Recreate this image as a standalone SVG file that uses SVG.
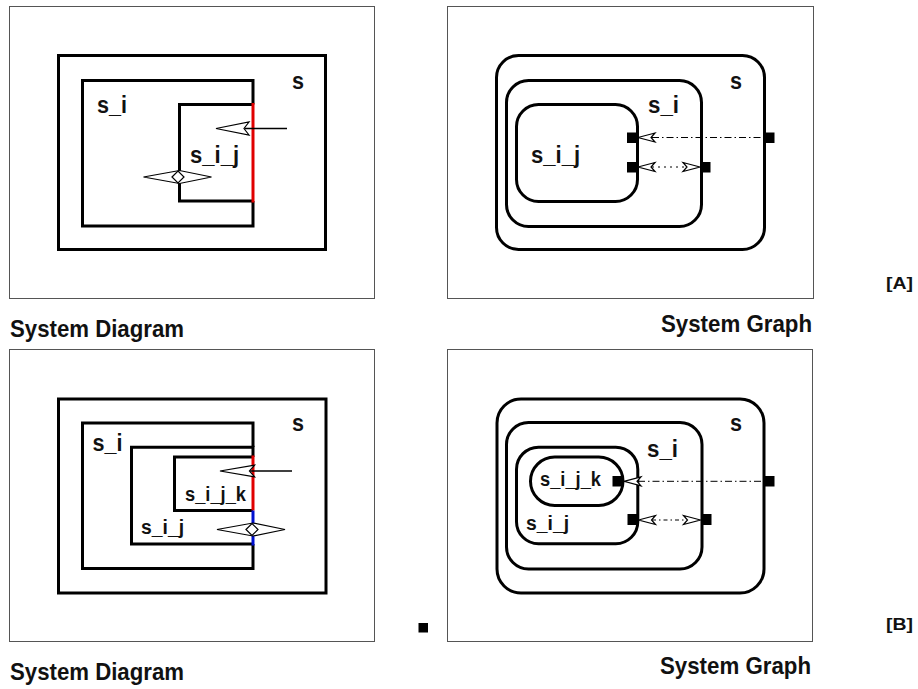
<svg xmlns="http://www.w3.org/2000/svg" width="918" height="689" viewBox="0 0 918 689">
  <style>
    .frame { fill: #fff; stroke: #555; stroke-width: 1; }
    .box { fill: none; stroke: #000; stroke-width: 3; }
    .lbl { font-family: "Liberation Sans", Arial, sans-serif; font-weight: bold; fill: #111; }
    .big { font-size: 23px; }
    .sm { font-size: 20px; }
    .title { font-size: 24px; }
    .tag { font-size: 16px; }
    .head { fill: #fff; stroke: #000; stroke-width: 1.2; stroke-linejoin: miter; }
    .wire { stroke: #000; stroke-width: 1.3; fill: none; }
    .port { fill: #000; }
    .dashdot { stroke: #000; stroke-width: 1; stroke-dasharray: 7 3 1.5 3; fill: none; }
    .dotted { stroke: #000; stroke-width: 1; stroke-dasharray: 2 4; fill: none; }
    .dashdot2 { stroke: #000; stroke-width: 1; stroke-dasharray: 4 3 1.5 3; fill: none; }
  </style>
  <defs>
    <!-- notched open arrowhead, tip at origin, pointing left -->
    <polygon id="bigHead" class="head" points="0,0 33,-6.5 28,0 33,6.5"/>
    <polygon id="smallHead" class="head" points="0,0 17,-4.5 13,0 17,4.5"/>
  </defs>

  <rect width="918" height="689" fill="#fff"/>

  <!-- ===== Panel A: system diagram ===== -->
  <g id="frameA1"><rect class="frame" x="9.5" y="6.5" width="365" height="292"/></g>
  <g id="A1_s">
    <rect class="box" x="58.5" y="55.5" width="267" height="194"/>
    <text class="lbl big" x="292" y="89" textLength="12" lengthAdjust="spacingAndGlyphs">s</text>
  </g>
  <g id="A1_s_i">
    <polyline class="box" points="253,104.5 253,80.5 82.5,80.5 82.5,226 253,226 253,201"/>
    <text class="lbl big" x="97" y="113" textLength="30" lengthAdjust="spacingAndGlyphs">s_i</text>
  </g>
  <g id="A1_s_i_j">
    <polyline class="box" points="253,104.5 179.5,104.5 179.5,201 253,201"/>
    <line x1="253" y1="103" x2="253" y2="202.5" stroke="#e00000" stroke-width="3"/>
    <text class="lbl big" x="190" y="163" textLength="49" lengthAdjust="spacingAndGlyphs">s_i_j</text>
  </g>
  <g id="A1_connectors">
    <line class="wire" x1="245" y1="128.5" x2="287" y2="128.5"/>
    <use href="#bigHead" x="216" y="128.5"/>
    <polygon class="head" points="143.5,177 179.5,170.5 211.5,177 179.5,183.5"/>
    <polygon class="head" points="172,177 178,171 184,177 178,183"/>
  </g>
  <text class="lbl title" x="10" y="337" textLength="174" lengthAdjust="spacingAndGlyphs">System Diagram</text>

  <!-- ===== Panel A: system graph ===== -->
  <g id="frameA2"><rect class="frame" x="447.5" y="6.5" width="366" height="292"/></g>
  <g id="A2_s">
    <rect class="box" x="496.5" y="55.5" width="268" height="194" rx="22"/>
    <text class="lbl big" x="730" y="89" textLength="12" lengthAdjust="spacingAndGlyphs">s</text>
  </g>
  <g id="A2_s_i">
    <rect class="box" x="506.5" y="80.5" width="195" height="146" rx="22"/>
    <text class="lbl big" x="648" y="113" textLength="31" lengthAdjust="spacingAndGlyphs">s_i</text>
  </g>
  <g id="A2_s_i_j">
    <rect class="box" x="516.5" y="104.5" width="121" height="97" rx="22"/>
    <text class="lbl big" x="531" y="163" textLength="49" lengthAdjust="spacingAndGlyphs">s_i_j</text>
  </g>
  <g id="A2_connectors">
    <line class="dashdot" x1="652" y1="137.5" x2="765" y2="137.5"/>
    <use href="#smallHead" x="638" y="137.5"/>
    <line class="dotted" x1="652" y1="167" x2="686" y2="167"/>
    <use href="#smallHead" x="638" y="167"/>
    <use href="#smallHead" transform="translate(700,167) scale(-1,1)"/>
    <rect class="port" x="627" y="132.5" width="10" height="10.5"/>
    <rect class="port" x="627" y="162" width="10" height="10.5"/>
    <rect class="port" x="700.5" y="162" width="10" height="10.5"/>
    <rect class="port" x="765" y="132.5" width="9.5" height="10.5"/>
  </g>
  <text class="lbl title" x="812" y="332" text-anchor="end" textLength="151" lengthAdjust="spacingAndGlyphs">System Graph</text>
  <text class="lbl tag" x="886" y="288.5" textLength="27" lengthAdjust="spacingAndGlyphs">[A]</text>

  <!-- ===== Panel B: system diagram ===== -->
  <g id="frameB1"><rect class="frame" x="9.5" y="349.5" width="365" height="292"/></g>
  <g id="B1_s">
    <rect class="box" x="58.5" y="399" width="267.5" height="194"/>
    <text class="lbl big" x="292" y="431" textLength="12" lengthAdjust="spacingAndGlyphs">s</text>
  </g>
  <g id="B1_s_i">
    <polyline class="box" points="253,447 253,423 82.5,423 82.5,568.5 253,568.5 253,544"/>
    <text class="lbl big" x="92.5" y="451" textLength="30" lengthAdjust="spacingAndGlyphs">s_i</text>
  </g>
  <g id="B1_s_i_j">
    <polyline class="box" points="253,457 253,447.2 131.5,447.2 131.5,544 253,544"/>
    <text class="lbl sm" x="141" y="534" textLength="43" lengthAdjust="spacingAndGlyphs">s_i_j</text>
  </g>
  <g id="B1_s_i_j_k">
    <polyline class="box" points="253,457 174.5,457 174.5,510.5 253,510.5"/>
    <line x1="253" y1="455.5" x2="253" y2="510.5" stroke="#e00000" stroke-width="3"/>
    <line x1="253" y1="510.5" x2="253" y2="545.5" stroke="#0010d0" stroke-width="3"/>
    <text class="lbl sm" x="185" y="501" textLength="61" lengthAdjust="spacingAndGlyphs">s_i_j_k</text>
  </g>
  <g id="B1_connectors">
    <line class="wire" x1="250" y1="471" x2="292" y2="471"/>
    <use href="#bigHead" transform="translate(220,471) scale(1.05,0.9)"/>
    <polygon class="head" points="217,529.5 253,523 285,529.5 253,536"/>
    <polygon class="head" points="246,529.5 252,523.5 258,529.5 252,535.5"/>
  </g>
  <text class="lbl title" x="10" y="680" textLength="174" lengthAdjust="spacingAndGlyphs">System Diagram</text>
  <rect class="port" x="418.5" y="623" width="9.5" height="9.5"/>

  <!-- ===== Panel B: system graph ===== -->
  <g id="frameB2"><rect class="frame" x="447.5" y="349.5" width="365" height="292"/></g>
  <g id="B2_s">
    <rect class="box" x="497" y="399" width="267" height="194" rx="24"/>
    <text class="lbl big" x="730" y="431" textLength="12" lengthAdjust="spacingAndGlyphs">s</text>
  </g>
  <g id="B2_s_i">
    <rect class="box" x="506.5" y="422.5" width="195.5" height="146.5" rx="22"/>
    <text class="lbl big" x="647" y="456.5" textLength="31" lengthAdjust="spacingAndGlyphs">s_i</text>
  </g>
  <g id="B2_s_i_j">
    <rect class="box" x="516.5" y="447.2" width="121.3" height="96.5" rx="22"/>
    <text class="lbl sm" x="526" y="530" textLength="43" lengthAdjust="spacingAndGlyphs">s_i_j</text>
  </g>
  <g id="B2_s_i_j_k">
    <rect class="box" x="530.5" y="457" width="92.5" height="48.5" rx="24.2"/>
    <text class="lbl sm" x="540" y="486" textLength="61" lengthAdjust="spacingAndGlyphs">s_i_j_k</text>
  </g>
  <g id="B2_connectors">
    <line class="dashdot" x1="638" y1="481.3" x2="765" y2="481.3"/>
    <use href="#smallHead" x="624" y="481.3"/>
    <line class="dashdot2" x1="652" y1="520" x2="686" y2="520"/>
    <use href="#smallHead" x="638.5" y="520"/>
    <use href="#smallHead" transform="translate(700.5,520) scale(-1,1)"/>
    <rect class="port" x="612.5" y="476" width="10.5" height="10.5"/>
    <rect class="port" x="627.5" y="514" width="10.5" height="11"/>
    <rect class="port" x="701" y="514" width="10.5" height="11"/>
    <rect class="port" x="764.5" y="476" width="10" height="10.5"/>
  </g>
  <text class="lbl title" x="811" y="673.5" text-anchor="end" textLength="151" lengthAdjust="spacingAndGlyphs">System Graph</text>
  <text class="lbl tag" x="886" y="630" textLength="27" lengthAdjust="spacingAndGlyphs">[B]</text>
</svg>
